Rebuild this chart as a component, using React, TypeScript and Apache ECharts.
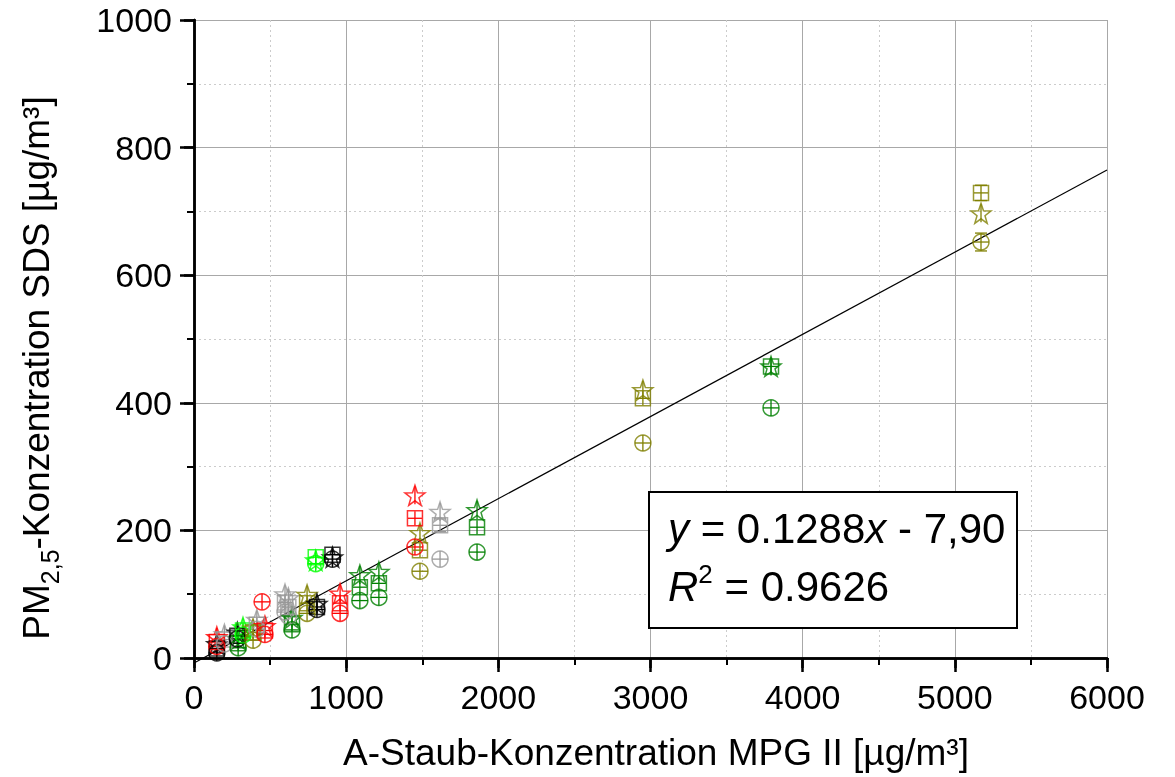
import React, { useEffect, useRef } from "react";
import * as echarts from "echarts";

// ---- data ----
const palette = ["#ff0000", "#000000", "#00ff00", "#999999", "#808000", "#008000"];
// color index per point: 0 red, 1 black, 2 lime, 3 gray, 4 olive, 5 dark green
const pointColor = [0, 1, 3, 5, 1, 2, 4, 3, 0, 0, 3, 3, 5, 4, 1, 2, 1, 0, 5, 5, 0, 4, 3, 5, 4, 5, 4];
const pointX = [150, 150, 200, 290, 285, 322, 388, 413, 466, 447, 598, 620, 644, 743, 808, 800, 910, 960, 1090, 1215, 1452, 1485, 1617, 1860, 2950, 3792, 5172];
const circleY = [18, 8, 22, 16, 30, 36, 28, 45, 37, 88, 72, 66, 44, 70, 76, 148, 155, 70, 90, 95, 174, 136, 155, 166, 337, 392, 652];
const squareY = [25, 15, 29, 23, 35, 43, 40, 52, 43, null, 87, 80, 53, 86, 80, 158, 162, 86, 111, 117, 219, 169, 208, 205, 407, 457, 729];
const starY = [33, 22, 37, 30, 40, 48, 46, 60, 50, null, 100, 94, 63, 99, 85, 153, 158, 101, 130, 135, 255, 196, 229, 232, 420, 457, 697];
const circleErr = [4, 3, 4, 4, 3, 3, 4, 5, 4, 6, 5, 5, 10, 5, 3, 4, 4, 5, 5, 5, 6, 5, 5, 4, 5, 5, 14];
const squareErr = [4, 3, 4, 4, 3, 3, 4, 5, 4, 0, 6, 6, 6, 5, 3, 4, 4, 5, 5, 5, 7, 6, 10, 5, 6, 5, 12];
const starErr = [5, 4, 5, 4, 4, 4, 5, 6, 5, 0, 7, 7, 6, 6, 4, 4, 4, 6, 6, 6, 10, 7, 12, 6, 6, 5, 10];

const xTicks = { min: 0, max: 6000, interval: 1000 };
const yTicks = { min: 0, max: 1000, interval: 200 };
const slope = 0.1288;
const intercept = -7.9;
const eqLine1 = "{i|y}{n| = 0.1288}{i|x}{n| - 7,90}";
const eqLine2 = "{i|R}{s|2}{n| = 0.9626}";
const xTitle = "A-Staub-Konzentration MPG II [µg/m³]";
const yTitle = "{n|PM}{sub|2,5}{n|-Konzentration SDS [µg/m³]}";

const FONT = "'Liberation Sans', Arial, sans-serif";
const symbolHalf = [8, 7, 9]; // circle, square, star

function starPath(): string {
  const pts: string[] = [];
  for (let i = 0; i < 10; i++) {
    const r = i % 2 === 0 ? 50 : 20;
    const a = -Math.PI / 2 + (i * Math.PI) / 5;
    pts.push(`${(50 + r * Math.cos(a)).toFixed(2)} ${(50 + r * Math.sin(a)).toFixed(2)}`);
  }
  return "path://M" + pts.join(" L") + " Z";
}

function scatterData(ys: (number | null)[]) {
  const out: any[] = [];
  ys.forEach((y, i) => {
    if (y === null) return;
    out.push({ value: [pointX[i], y], itemStyle: { borderColor: palette[pointColor[i]] } });
  });
  return out;
}

function errData() {
  const out: any[] = [];
  const sets: [(number | null)[], number[]][] = [
    [circleY, circleErr],
    [squareY, squareErr],
    [starY, starErr],
  ];
  sets.forEach(([ys, es], s) => {
    ys.forEach((y, i) => {
      if (y === null) return;
      out.push([pointX[i], y, es[i], pointColor[i], s]);
    });
  });
  return out;
}

export default function App() {
  const ref = useRef<HTMLDivElement>(null);
  useEffect(() => {
    if (!ref.current) return;
    const chart = echarts.init(ref.current, null, { renderer: "svg" });
    const axisCommon = {
      type: "value" as const,
      axisLine: { show: true, lineStyle: { color: "#000", width: 2.5 } },
      axisTick: { show: true, length: 14, lineStyle: { color: "#000", width: 2.5 } },
      minorTick: { show: true, splitNumber: 2, length: 7, lineStyle: { color: "#000", width: 2 } },
    };
    const hollow = (symbol: string, size: number, data: any[]) => ({
      type: "scatter",
      symbol,
      symbolSize: size,
      data,
      itemStyle: { color: "rgba(0,0,0,0)", borderWidth: 1.5 },
      z: 3,
    });
    chart.setOption({
      animation: false,
      grid: { left: 194, right: 68, top: 20, bottom: 119 },
      xAxis: [
        {
          ...axisCommon,
          ...xTicks,
          position: "bottom",
          axisLabel: { color: "#000", fontSize: 34, fontFamily: FONT, margin: 22, formatter: (v: number) => String(v) },
          splitLine: { show: true, lineStyle: { color: "#a8a8a8", width: 1 } },
          minorSplitLine: { show: true, lineStyle: { color: "#cccccc", width: 1, type: [2, 3] } },
        },
        {
          ...axisCommon,
          ...xTicks,
          position: "top",
          axisLabel: { show: false },
          axisTick: { ...axisCommon.axisTick, inside: true, length: 10 },
          minorTick: { ...axisCommon.minorTick, inside: true, length: 5 },
          splitLine: { show: false },
        },
      ],
      yAxis: [
        {
          ...axisCommon,
          ...yTicks,
          position: "left",
          axisLabel: { color: "#000", fontSize: 34, fontFamily: FONT, margin: 22, formatter: (v: number) => String(v) },
          splitLine: { show: true, lineStyle: { color: "#a8a8a8", width: 1 } },
          minorSplitLine: { show: true, lineStyle: { color: "#cccccc", width: 1, type: [2, 3] } },
        },
        {
          ...axisCommon,
          ...yTicks,
          position: "right",
          axisLabel: { show: false },
          axisTick: { ...axisCommon.axisTick, inside: true, length: 10 },
          minorTick: { ...axisCommon.minorTick, inside: true, length: 5 },
          splitLine: { show: false },
        },
      ],
      graphic: [
        {
          type: "text",
          x: 656,
          y: 752,
          style: { text: xTitle, fontSize: 37, fontFamily: FONT, fill: "#000", align: "center", verticalAlign: "middle" },
        },
        {
          type: "text",
          x: 36,
          y: 368,
          rotation: Math.PI / 2,
          style: {
            text: yTitle,
            fontFamily: FONT,
            fill: "#000",
            align: "center",
            verticalAlign: "middle",
            rich: {
              n: { fontSize: 37, fontFamily: FONT, lineHeight: 52, verticalAlign: "middle" },
              sub: { fontSize: 25, fontFamily: FONT, lineHeight: 25, verticalAlign: "bottom" },
            },
          },
        },
        {
          type: "rect",
          shape: { x: 649, y: 492, width: 368, height: 136 },
          style: { fill: "#fff", stroke: "#000", lineWidth: 2 },
          z: 10,
        },
        {
          type: "text",
          x: 668,
          y: 528,
          z: 11,
          style: {
            text: eqLine1,
            fill: "#000",
            verticalAlign: "middle",
            rich: {
              n: { fontSize: 42, fontFamily: FONT },
              i: { fontSize: 42, fontFamily: FONT, fontStyle: "italic" },
            },
          },
        },
        {
          type: "text",
          x: 668,
          y: 586,
          z: 11,
          style: {
            text: eqLine2,
            fill: "#000",
            verticalAlign: "middle",
            rich: {
              n: { fontSize: 42, fontFamily: FONT, lineHeight: 50, verticalAlign: "middle" },
              i: { fontSize: 42, fontFamily: FONT, fontStyle: "italic", lineHeight: 50, verticalAlign: "middle" },
              s: { fontSize: 26, fontFamily: FONT, lineHeight: 26, verticalAlign: "top" },
            },
          },
        },
      ],
      series: [
        {
          type: "line",
          data: [
            [xTicks.min, slope * xTicks.min + intercept],
            [xTicks.max, slope * xTicks.max + intercept],
          ],
          symbol: "none",
          lineStyle: { color: "#000", width: 1.2 },
          clip: false,
          z: 2,
        },
        {
          type: "custom",
          data: errData(),
          encode: { x: 0, y: 1 },
          z: 3,
          renderItem: (params: any, api: any) => {
            const x = api.value(0);
            const y = api.value(1);
            const e = api.value(2);
            const c = palette[api.value(3)];
            const h = symbolHalf[api.value(4)];
            const ctr = api.coord([x, y]);
            const t = api.coord([x, y + e]);
            const b = api.coord([x, y - e]);
            const hw = 6;
            const st = { stroke: c, lineWidth: 1.3 };
            const y1 = Math.min(t[1], ctr[1] - h);
            const y2 = Math.max(b[1], ctr[1] + h);
            const children: any[] = [
              { type: "line", shape: { x1: ctr[0], y1, x2: ctr[0], y2 }, style: st },
            ];
            if (api.value(4) !== 2) {
              children.push({ type: "line", shape: { x1: ctr[0] - h, y1: ctr[1], x2: ctr[0] + h, y2: ctr[1] }, style: st });
            }
            if (ctr[1] - t[1] > h - 1) {
              children.push({ type: "line", shape: { x1: t[0] - hw, y1: t[1], x2: t[0] + hw, y2: t[1] }, style: st });
              children.push({ type: "line", shape: { x1: b[0] - hw, y1: b[1], x2: b[0] + hw, y2: b[1] }, style: st });
            }
            return { type: "group", children };
          },
        },
        hollow(starPath(), 20, scatterData(starY)),
        hollow("rect", 15, scatterData(squareY)),
        hollow("circle", 16, scatterData(circleY)),
      ],
    });
    return () => chart.dispose();
  }, []);
  return <div ref={ref} style={{ position: "fixed", left: 0, top: 0, width: 1175, height: 777 }} />;
}
